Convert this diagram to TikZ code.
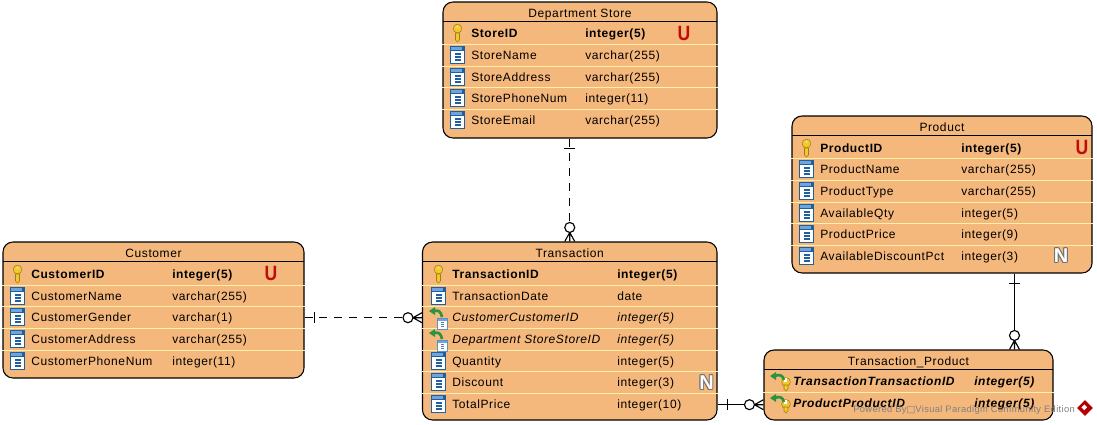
\documentclass[tikz,border=0pt]{standalone}
\usepackage{fontspec}
\usepackage[copies]{contour}
\setmainfont{Liberation Sans}
\newfontfamily\boxfont{DejaVu Sans}
\usetikzlibrary{calc}

\definecolor{tablefill}{HTML}{F4B77C}
\definecolor{rowsep}{HTML}{FFF2A8}
\definecolor{colblue}{HTML}{1F5F9F}
\definecolor{colband}{HTML}{6FA5DC}
\definecolor{keygold}{HTML}{F2C82A}
\definecolor{keyedge}{HTML}{A27F10}
\definecolor{fkgreen}{HTML}{2C9440}
\definecolor{markred}{HTML}{C00C0C}

\contourlength{0.6pt}

\tikzset{
  tablebox/.style={draw=black,fill=tablefill,line width=0.8pt,rounded corners=7.5pt,inner sep=0pt},
  tabletitle/.style={anchor=base,inner sep=0pt,font=\fontsize{9}{10}\selectfont\addfontfeature{LetterSpace=5}},
  rowtext/.style={anchor=base west,inner sep=0pt,font=\fontsize{9}{10}\selectfont\addfontfeature{LetterSpace=5}},
  rowline/.style={draw=rowsep,line width=0.7pt},
  relline/.style={draw=black,line width=0.85pt},
  reldash/.style={relline,line width=1pt,dash pattern=on 6pt off 5.2pt},
  markU/.style={inner sep=0pt,text=markred,font=\fontsize{15.5}{16}\selectfont\bfseries},
  markN/.style={inner sep=0pt,font=\fontsize{15}{16}\selectfont\bfseries},
  % many end: tip on the box, tail along +x
  manyend/.pic={
    \draw[relline] (0,-5) -- (9,0) -- (0,5) (0,0) -- (9,0);
    \draw[relline,fill=white] (14,0) circle (5);
  },
  oneend/.pic={
    \draw[relline] (10,-5.5) -- (10,5.5);
  },
  colicon/.pic={
    \fill[colblue] (-21,-9) rectangle (-6,9);
    \fill[white] (-20,-4) rectangle (-7,8);
    \fill[colband] (-20,-8) rectangle (-9,-5);
    \foreach \b in {-2,1,4}
      \fill[colblue] (-16,\b) rectangle (-10,\b+2);
  },
  fkcolicon/.pic={
    \fill[colblue!70] (-15,1) rectangle (-4,13);
    \fill[white] (-14,4) rectangle (-5,12);
    \fill[colband] (-14,2) rectangle (-5,4);
    \foreach \b in {5,7,9}
      \fill[colblue!80] (-11,\b) rectangle (-8,\b+1);
    \draw[fkgreen,line width=2pt] (-18,-6) .. controls (-14,-7) and (-11,-6) .. (-10,0);
    \fill[fkgreen] (-23,-6) -- (-17,-10) -- (-17,-2) -- cycle;
  },
  keyicon/.pic={
    \fill[keygold,draw=keyedge,line width=0.4pt] (-13.5,-4.5) circle (4.4);
    \fill[white!70!keyedge] (-13.5,-6) circle (1.4);
    \fill[keygold,draw=keyedge,line width=0.4pt] (-15.5,0) -- (-11.5,0) -- (-11.5,7) -- (-13.5,9) -- (-15.5,7) -- cycle;
  },
  fkkeyicon/.pic={
    \fill[keygold,draw=keyedge,line width=0.4pt] (-7,1) circle (4.4);
    \fill[white] (-9,-3) rectangle (-6,1);
    \fill[keygold,draw=keyedge,line width=0.4pt] (-9,4) -- (-5,4) -- (-5,8) -- (-7,10) -- (-9,8) -- cycle;
    \draw[fkgreen,line width=2pt] (-18,-5) .. controls (-14,-7) and (-10,-6) .. (-9,-1);
    \fill[fkgreen] (-23,-5) -- (-17,-9) -- (-17,-1) -- cycle;
  },
}

% box name, left, top, right, bottom, title
\newcommand{\tablebox}[6]{
  \pgfmathsetmacro\boxw{(#4-#2)*0.75}
  \pgfmathsetmacro\boxh{(#5-#3)*0.75}
  \node[tablebox,minimum width=\boxw pt,minimum height=\boxh pt] (#1) at ({(#2+#4)/2},{(#3+#5)/2}) {};
  \node[tabletitle] (#1title) at ({(#2+#4)/2},{#3+15}) {#6};
  \draw[black,line width=0.7pt] (#2,{#3+19}) -- (#4,{#3+19});
}
% icon, row name, y, label, type, font
\newcommand{\tablerow}[6]{
  \pic at (\namex,#3) {#1};
  \coordinate (#2mid) at (\namex,{#3+0.7});
  \node[rowtext] (#2) at (\namex,{#3+4.6}) {#6#4};
  \node[rowtext] (#2type) at (\typex,{#3+4.6}) {#6#5};
}

\begin{document}
\begin{tikzpicture}[x=0.75pt,y=-0.75pt]
  \useasboundingbox (0,0) rectangle (1097,425);

  % Department Store
  \tablebox{store}{443}{2}{717}{138}{Department Store}
  \foreach \y in {44,66,87,109}
    \draw[rowline] (store.west |- 0,\y) -- (store.east |- 0,\y);
  \def\namex{471}\def\typex{585}
  \tablerow{keyicon}{storeid}{33}{StoreID}{integer(5)}{\bfseries}
  \tablerow{colicon}{storename}{55}{StoreName}{varchar(255)}{}
  \tablerow{colicon}{storeaddress}{77}{StoreAddress}{varchar(255)}{}
  \tablerow{colicon}{storephone}{98}{StorePhoneNum}{integer(11)}{}
  \tablerow{colicon}{storeemail}{120}{StoreEmail}{varchar(255)}{}
  \node[markU] (storeU) at (684,33.5) {\scalebox{0.85}[1]{U}};

  % Product
  \tablebox{product}{792}{116}{1092}{273}{Product}
  \foreach \y in {158,180,202,223,245}
    \draw[rowline] (product.west |- 0,\y) -- (product.east |- 0,\y);
  \def\namex{820}\def\typex{961}
  \tablerow{keyicon}{productid}{148}{ProductID}{integer(5)}{\bfseries}
  \tablerow{colicon}{productname}{169}{ProductName}{varchar(255)}{}
  \tablerow{colicon}{producttype}{191}{ProductType}{varchar(255)}{}
  \tablerow{colicon}{availableqty}{213}{AvailableQty}{integer(5)}{}
  \tablerow{colicon}{productprice}{234}{ProductPrice}{integer(9)}{}
  \tablerow{colicon}{availablepct}{256}{AvailableDiscountPct}{integer(3)}{}
  \node[markU] (productU) at (1082,147.5) {\scalebox{0.85}[1]{U}};
  \node[markN] (productN) at (1061,256) {\contour{black!55}{\textcolor{white}{N}}};

  % Customer
  \tablebox{customer}{3}{242}{304}{378}{Customer}
  \foreach \y in {285,306,328,350}
    \draw[rowline] (customer.west |- 0,\y) -- (customer.east |- 0,\y);
  \def\namex{31}\def\typex{172}
  \tablerow{keyicon}{customerid}{274}{CustomerID}{integer(5)}{\bfseries}
  \tablerow{colicon}{customername}{296}{CustomerName}{varchar(255)}{}
  \tablerow{colicon}{customergender}{317}{CustomerGender}{varchar(1)}{}
  \tablerow{colicon}{customeraddress}{339}{CustomerAddress}{varchar(255)}{}
  \tablerow{colicon}{customerphone}{361}{CustomerPhoneNum}{integer(11)}{}
  \node[markU] (customerU) at (271,273.5) {\scalebox{0.85}[1]{U}};

  % Transaction
  \tablebox{transaction}{422.5}{242}{717}{420}{Transaction}
  \foreach \y in {285,306,328,350,371,393}
    \draw[rowline] (transaction.west |- 0,\y) -- (transaction.east |- 0,\y);
  \def\namex{452}\def\typex{617}
  \tablerow{keyicon}{transactionid}{274}{TransactionID}{integer(5)}{\bfseries}
  \tablerow{colicon}{transactiondate}{296}{TransactionDate}{date}{}
  \tablerow{fkcolicon}{fkcustomer}{317}{CustomerCustomerID}{integer(5)}{\itshape}
  \tablerow{fkcolicon}{fkstore}{339}{Department StoreStoreID}{integer(5)}{\itshape}
  \tablerow{colicon}{quantity}{361}{Quantity}{integer(5)}{}
  \tablerow{colicon}{discount}{382}{Discount}{integer(3)}{}
  \tablerow{colicon}{totalprice}{404}{TotalPrice}{integer(10)}{}
  \node[markN] (discountN) at (706.5,383) {\contour{black!55}{\textcolor{white}{N}}};

  % Transaction_Product
  \tablebox{transprod}{764}{350}{1053}{420}{Transaction\_Product}
  \draw[rowline] (transprod.west |- 0,392) -- (transprod.east |- 0,392);
  \def\namex{793}\def\typex{974}
  \tablerow{fkkeyicon}{fktransaction}{381}{TransactionTransactionID}{integer(5)}{\bfseries\itshape}
  \tablerow{fkkeyicon}{fkproduct}{403}{ProductProductID}{integer(5)}{\bfseries\itshape}

  % relations
  \coordinate (prodlink) at (1014.5,300);
  \draw[reldash] (store.south -| transaction.north) -- (transaction.north);
  \draw[reldash] (customer.east |- customergendermid) -- (transaction.west |- customergendermid);
  \draw[relline] (transaction.east |- totalpricemid) -- (transprod.west |- totalpricemid);
  \draw[relline] (product.south -| prodlink) -- (transprod.north -| prodlink);

  \pic[rotate=-90] at (store.south -| transaction.north) {oneend};
  \pic[rotate=90] at (transaction.north) {manyend};
  \pic at (customer.east |- customergendermid) {oneend};
  \pic[xscale=-1] at (transaction.west |- customergendermid) {manyend};
  \pic at (transaction.east |- totalpricemid) {oneend};
  \pic[xscale=-1] at (transprod.west |- totalpricemid) {manyend};
  \pic[rotate=-90] at (product.south -| prodlink) {oneend};
  \pic[rotate=90] at (transprod.north -| prodlink) {manyend};

  % watermark
  \node[anchor=base west,inner sep=0pt,text=black!50,font=\fontsize{7}{8}\selectfont\addfontfeature{LetterSpace=4}] (watermark) at (853,412) {Powered By{\boxfont\fontsize{7}{8}\selectfont □}Visual Paradigm Community Edition};
  \fill[red!70!black,rotate around={45:(1085,408)}] (1079.5,402.5) rectangle (1090.5,413.5);
  \fill[white,rotate around={45:(1085,408)}] (1083,405) rectangle (1087,409);
\end{tikzpicture}
\end{document}
